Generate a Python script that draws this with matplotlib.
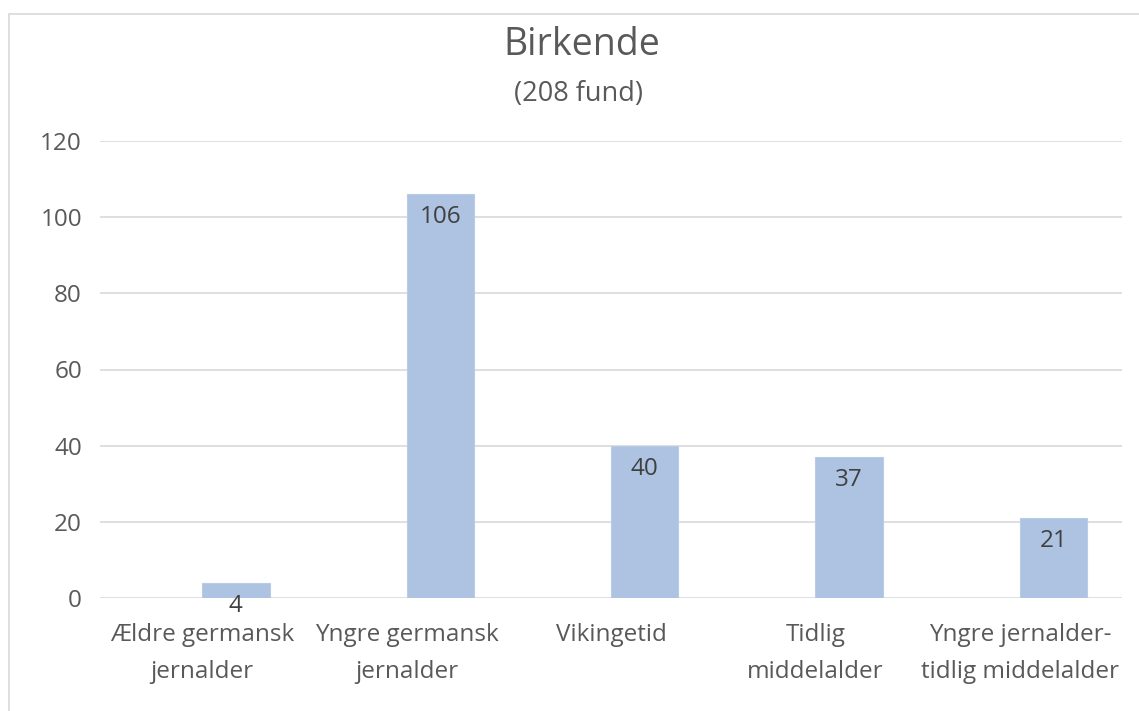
import matplotlib
matplotlib.use("Agg")
import matplotlib.pyplot as plt
from matplotlib.patches import Rectangle
import numpy as np

categories = ["Ældre germansk\njernalder", "Yngre germansk\njernalder", "Vikingetid",
              "Tidlig\nmiddelalder", "Yngre jernalder-\ntidlig middelalder"]
values = [4, 106, 40, 37, 21]
yticks = [0, 20, 40, 60, 80, 100, 120]

plt.rcParams['font.family'] = ['Open Sans', 'DejaVu Sans']

fig = plt.figure(figsize=(11.39, 7.11), dpi=100)
ax = fig.add_axes([100 / 1139, 1 - 598 / 711, 1022 / 1139, (598 - 141) / 711])

# ramme rundt om diagrammet (kun venstre og top synlig)
fig.patches.append(Rectangle((9 / 1139, -0.1), 1.2, 1.1 - 14 / 711,
                             transform=fig.transFigure, fill=False,
                             edgecolor='#d9d9d9', linewidth=1.2))

x = np.arange(len(categories))
bar_w = 0.33
bars = ax.bar(x + bar_w / 2, values, width=bar_w, color='#adc3e1',
              edgecolor='#b8cce6', linewidth=0.8, zorder=3)

for b, v in zip(bars, values):
    ax.annotate(str(v), (b.get_x() + b.get_width() / 2, v), xytext=(0, -8),
                textcoords='offset points', ha='center', va='top',
                fontsize=17.5, color='#404040', zorder=4)

ax.set_xlim(-0.5, len(categories) - 0.5)
ax.set_ylim(0, 120)
ax.set_yticks(yticks)
ax.set_xticks(x)
ax.set_xticklabels(categories, fontsize=17.5, color='#595959', linespacing=1.7)
ax.tick_params(axis='y', length=0, pad=13, labelsize=17.5, labelcolor='#595959')
ax.tick_params(axis='x', length=0, pad=18)
ax.grid(axis='y', color='#d9d9d9', linewidth=1.2, zorder=0)
for s in ax.spines.values():
    s.set_visible(False)

fig.text(582 / 1139, 1 - 55 / 711, "Birkende", ha='center', va='baseline',
         fontsize=27, color='#595959')
fig.text(578 / 1139, 1 - 101 / 711, "(208 fund)", ha='center', va='baseline',
         fontsize=19.5, color='#595959')

plt.savefig('out.png', dpi=100)
